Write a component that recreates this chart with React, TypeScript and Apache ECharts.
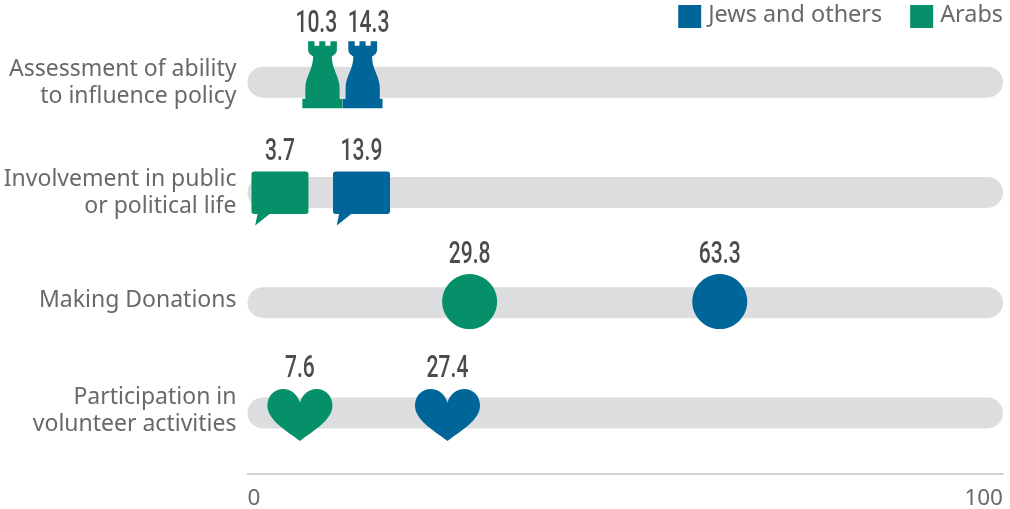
import React, { useEffect, useRef } from "react";
import * as echarts from "echarts";

const categories = [
  "Assessment of ability\nto influence policy",
  "Involvement in public\nor political life",
  "Making Donations",
  "Participation in\nvolunteer activities",
];
const jews = [14.3, 13.9, 63.3, 27.4];
const arabs = [10.3, 3.7, 29.8, 7.6];
const track = [100, 100, 100, 100];

const TOWER = "path://M17 0H36V14H50V0H68V14H83V0H102V26Q102 38 87 46C87 85 110 105 110 140V172H118V200H0V172H9V140C9 105 32 85 32 46Q17 38 17 26Z";
const BUBBLE = "path://M8 0H161Q169 0 169 8V118Q169 126 161 126H54L11 160L18 126H8Q0 126 0 118V8Q0 0 8 0Z";
const HEART = "path://M98 40C90 15 70 0 48 0C20 0 0 20 0 50C0 90 50 120 98 154C146 120 196 90 196 50C196 20 176 0 148 0C126 0 106 15 98 40Z";
const symbols = [TOWER, BUBBLE, "circle", HEART];
const sizes = [[40, 67], [57, 54], [55, 55], [65, 52]];
const yShift = [-7.5, 6, -1, 2];
const jewsShift = [7, 9, -6, -7];
const arabsShift = [-3, 4.5, -3, -5];
const jewsLabelNudge = [6, 0, 0, 0];
const arabsLabelNudge = [-6, 0, 0, 0];
const labelGap = [20, 22, 22, 23];
const categoryPadding = [4, 4, 10, 8];

const BLUE = "#006699";
const GREEN = "#06906a";
const TEXT = "#666a6c";
const VALUE_FONT = "Roboto, sans-serif";
const TEXT_FONT = "'Noto Sans', sans-serif";

const lineStyle = { color: TEXT, fontSize: 23, lineHeight: 27, fontFamily: TEXT_FONT, align: "right" };

function marks(name: string, color: string, values: number[], shift: number[]) {
  return {
    name,
    type: "scatter",
    z: 5,
    itemStyle: { color, opacity: 1 },
    data: values.map((v, i) => ({
      value: [v, categories[i]],
      symbol: symbols[i],
      symbolSize: sizes[i],
      symbolOffset: [shift[i], yShift[i]],
    })),
  };
}

function valueLabels(name: string, values: number[], shift: number[], nudge: number[]) {
  return {
    name: name + " labels",
    type: "custom",
    z: 6,
    silent: true,
    coordinateSystem: "cartesian2d",
    encode: { x: 0, y: 1 },
    data: values.map((v, i) => [v, categories[i], i]),
    renderItem: (_: any, api: any) => {
      const i = api.value(2);
      const p = api.coord([api.value(0), i]);
      return {
        type: "text",
        x: p[0] + shift[i] + nudge[i],
        y: p[1] + yShift[i] - sizes[i][1] / 2 - labelGap[i],
        scaleX: 0.68,
        style: {
          text: api.value(0).toFixed(1),
          fontFamily: VALUE_FONT,
          fontWeight: 500,
          fontSize: 31,
          fill: "#4a4d50",
          align: "center",
          verticalAlign: "middle",
        },
      };
    },
  };
}

export default function App() {
  const ref = useRef<HTMLDivElement>(null);
  useEffect(() => {
    const chart = echarts.init(ref.current!, null, { renderer: "svg" });
    const rich: any = { l: lineStyle };
    categoryPadding.forEach((p, i) => {
      rich["b" + i] = { ...lineStyle, lineHeight: 27 + p, padding: [0, 0, p, 0] };
    });
    chart.setOption({
      animation: false,
      grid: { left: 247.5, right: 7, top: 27, height: 441, outerBoundsMode: "none" },
      legend: {
        data: [
          { name: "Jews and others", icon: "rect" },
          { name: "Arabs", icon: "rect" },
        ],
        right: 7,
        top: 1,
        padding: 0,
        itemWidth: 23,
        itemHeight: 23,
        itemGap: 28,
        selectedMode: false,
        formatter: (name: string) => `{a|${name}}`,
        textStyle: {
          color: TEXT,
          fontSize: 23.4,
          fontFamily: TEXT_FONT,
          padding: [0, 0, 0, 2],
          rich: {
            a: {
              color: TEXT,
              fontSize: 23.4,
              fontFamily: TEXT_FONT,
              lineHeight: 35,
              padding: [0, 0, 8, 0],
            },
          },
        },
      },
      xAxis: {
        type: "value",
        min: 0,
        max: 100,
        interval: 100,
        offset: 6,
        axisLine: { show: true, lineStyle: { color: "#c4c4c4", width: 1.5 } },
        axisTick: { show: false },
        splitLine: { show: false },
        axisLabel: {
          color: TEXT,
          fontSize: 22.5,
          fontFamily: TEXT_FONT,
          margin: 11,
          alignMinLabel: "left",
          alignMaxLabel: "right",
        },
      },
      yAxis: {
        type: "category",
        inverse: true,
        data: categories,
        axisLine: { show: false },
        axisTick: { show: false },
        axisLabel: {
          margin: 11,
          align: "right",
          rich,
          formatter: (value: string, index: number) => {
            const lines = value.split("\n");
            return lines
              .map((t, k) => (k === lines.length - 1 ? `{b${index}|${t}}` : `{l|${t}}`))
              .join("\n");
          },
        },
      },
      series: [
        {
          name: "track",
          type: "bar",
          silent: true,
          barWidth: 31,
          z: 1,
          itemStyle: { color: "#dcddde", borderRadius: 15.5 },
          data: track,
        },
        marks("Jews and others", BLUE, jews, jewsShift),
        marks("Arabs", GREEN, arabs, arabsShift),
        valueLabels("Jews and others", jews, jewsShift, jewsLabelNudge),
        valueLabels("Arabs", arabs, arabsShift, arabsLabelNudge),
      ],
    });
    return () => chart.dispose();
  }, []);
  return <div ref={ref} style={{ position: "fixed", left: 0, top: 0, width: 1010, height: 509 }} />;
}
